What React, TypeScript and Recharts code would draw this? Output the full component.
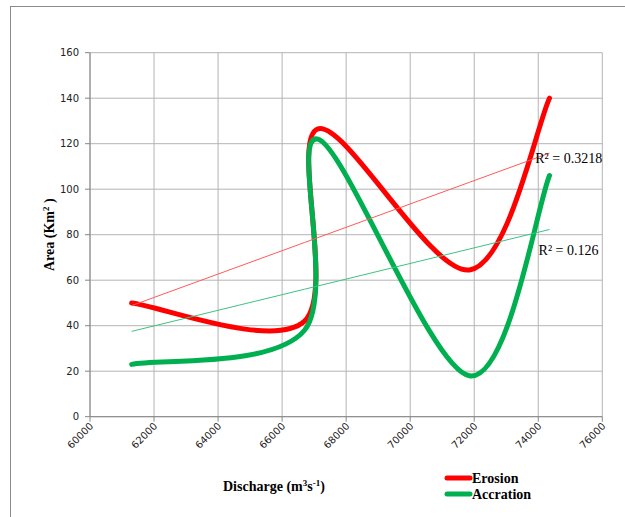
import React from 'react';
import {
  ComposedChart, Line, XAxis, YAxis, CartesianGrid, Legend, ReferenceDot,
} from 'recharts';

// Discharge (m3 s-1)
const discharge = [61300, 66700, 67120, 71850, 74350];
// Area (Km2)
const erosion = [50, 42, 126.5, 64.5, 140];
const accration = [23, 38, 122, 18, 106];

const xTicks = [60000, 62000, 64000, 66000, 68000, 70000, 72000, 74000, 76000];
const yTicks = [0, 20, 40, 60, 80, 100, 120, 140, 160];

const erosionR2 = 'R² = 0.3218';
const accrationR2 = 'R² = 0.126';
const erosionR2Pos = { x: 73906, y: 111.3 };
const accrationR2Pos = { x: 74009, y: 71.1 };

const RED = '#ff0000';
const GREEN = '#00b050';

function linReg(xs: number[], ys: number[]) {
  const n = xs.length;
  const mx = xs.reduce((a, b) => a + b, 0) / n;
  const my = ys.reduce((a, b) => a + b, 0) / n;
  let sxy = 0;
  let sxx = 0;
  for (let i = 0; i < n; i++) {
    sxy += (xs[i] - mx) * (ys[i] - my);
    sxx += (xs[i] - mx) * (xs[i] - mx);
  }
  const b = sxy / sxx;
  const a = my - b * mx;
  return (x: number) => a + b * x;
}

const erosionTrend = linReg(discharge, erosion);
const accrationTrend = linReg(discharge, accration);

const data = discharge.map((x, i) => ({
  x,
  erosion: erosion[i],
  accration: accration[i],
  erosionTrend: erosionTrend(x),
  accrationTrend: accrationTrend(x),
}));

// Excel-like smoothed line (Catmull-Rom style bezier)
function excelCurve(context: any) {
  let pts: number[][] = [];
  return {
    areaStart() {},
    areaEnd() {},
    lineStart() {
      pts = [];
    },
    lineEnd() {
      const n = pts.length;
      if (n === 0) return;
      context.moveTo(pts[0][0], pts[0][1]);
      for (let i = 0; i < n - 1; i++) {
        const p0 = pts[Math.max(i - 1, 0)];
        const p1 = pts[i];
        const p2 = pts[i + 1];
        const p3 = pts[Math.min(i + 2, n - 1)];
        context.bezierCurveTo(
          p1[0] + (p2[0] - p0[0]) / 6,
          p1[1] + (p2[1] - p0[1]) / 6,
          p2[0] - (p3[0] - p1[0]) / 6,
          p2[1] - (p3[1] - p1[1]) / 6,
          p2[0],
          p2[1],
        );
      }
    },
    point(x: number, y: number) {
      pts.push([+x, +y]);
    },
  };
}

const XTick = (props: any) => {
  const { x, y, payload } = props;
  return (
    <g transform={`translate(${x + 4},${y + 3})`}>
      <text
        x={0}
        y={0}
        textAnchor="end"
        transform="rotate(-45)"
        fontFamily="DejaVu Sans"
        fontSize={10}
        fill="#222"
      >
        {payload.value}
      </text>
    </g>
  );
};

const XLabel = (props: any) => {
  const vb = props.viewBox;
  return (
    <text
      x={vb.x + 133}
      y={vb.y + 74.5}
      fontFamily="Liberation Serif"
      fontWeight="bold"
      fontSize={14}
      fill="#000"
    >
      Discharge (m
      <tspan fontSize={9} dy={-5}>3</tspan>
      <tspan dy={5}>s</tspan>
      <tspan fontSize={9} dy={-5}>-1</tspan>
      <tspan dy={5}>)</tspan>
    </text>
  );
};

const YLabel = (props: any) => {
  const vb = props.viewBox;
  const cx = vb.x + 54;
  const cy = vb.y + vb.height / 2;
  return (
    <text
      x={cx}
      y={cy}
      textAnchor="middle"
      transform={`rotate(-90 ${cx} ${cy})`}
      fontFamily="Liberation Serif"
      fontWeight="bold"
      fontSize={14}
      fill="#000"
    >
      Area (Km
      <tspan fontSize={9} dy={-5}>2</tspan>
      <tspan dy={5}> )</tspan>
    </text>
  );
};

const R2Label = (text: string) => (props: any) => {
  const vb = props.viewBox;
  return (
    <text
      x={vb.x}
      y={vb.y}
      fontFamily="Liberation Serif"
      fontSize={14}
      fill="#000"
    >
      {text}
    </text>
  );
};

const LegendContent = () => (
  <svg width={110} height={36} style={{ display: 'block' }}>
    <line x1={4} y1={9} x2={27} y2={9} stroke={RED} strokeWidth={5} strokeLinecap="round" />
    <text x={29} y={13.5} fontFamily="Liberation Serif" fontWeight="bold" fontSize={14} fill="#000">
      Erosion
    </text>
    <line x1={4} y1={25} x2={27} y2={25} stroke={GREEN} strokeWidth={5} strokeLinecap="round" />
    <text x={29} y={29.5} fontFamily="Liberation Serif" fontWeight="bold" fontSize={14} fill="#000">
      Accration
    </text>
  </svg>
);

export default function App() {
  return (
    <div
      style={{
        position: 'absolute',
        left: 0,
        top: 0,
        width: 625,
        height: 517,
        overflow: 'hidden',
        background: '#fff',
      }}
    >
      <div
        style={{
          position: 'absolute',
          left: 10,
          top: 6,
          width: 640,
          height: 540,
          border: '1px solid #8a8a8a',
          boxSizing: 'border-box',
        }}
      />
      <div style={{ position: 'absolute', left: 0, top: 0 }}>
        <ComposedChart
          width={625}
          height={517}
          data={data}
          margin={{ top: 52.7, right: 22.7, left: 0, bottom: 0 }}
        >
          <CartesianGrid stroke="#b4b4b4" strokeWidth={1} />
          <XAxis
            dataKey="x"
            type="number"
            domain={[60000, 76000]}
            ticks={xTicks}
            interval={0}
            height={100.3}
            stroke="#868686"
            tickSize={5}
            tickMargin={2}
            tick={<XTick />}
            label={<XLabel />}
          />
          <YAxis
            type="number"
            domain={[0, 160]}
            ticks={yTicks}
            interval={0}
            width={90}
            stroke="#868686"
            tickSize={5}
            tickMargin={6}
            tick={{ fontFamily: 'DejaVu Sans', fontSize: 10, fill: '#222' }}
            label={<YLabel />}
          />
          <Line
            dataKey="erosion"
            type={excelCurve as any}
            stroke={RED}
            strokeWidth={5}
            strokeLinecap="round"
            dot={false}
            activeDot={false}
            isAnimationActive={false}
            legendType="line"
            name="Erosion"
          />
          <Line
            dataKey="accration"
            type={excelCurve as any}
            stroke={GREEN}
            strokeWidth={5}
            strokeLinecap="round"
            dot={false}
            activeDot={false}
            isAnimationActive={false}
            legendType="line"
            name="Accration"
          />
          <Line
            dataKey="erosionTrend"
            type="linear"
            stroke="#ff5a5a"
            strokeWidth={1}
            dot={false}
            activeDot={false}
            isAnimationActive={false}
            legendType="none"
          />
          <Line
            dataKey="accrationTrend"
            type="linear"
            stroke="#3cc47f"
            strokeWidth={1}
            dot={false}
            activeDot={false}
            isAnimationActive={false}
            legendType="none"
          />
          <ReferenceDot
            x={erosionR2Pos.x}
            y={erosionR2Pos.y}
            r={0}
            fill="none"
            stroke="none"
            label={R2Label(erosionR2)}
          />
          <ReferenceDot
            x={accrationR2Pos.x}
            y={accrationR2Pos.y}
            r={0}
            fill="none"
            stroke="none"
            label={R2Label(accrationR2)}
          />
          <Legend
            layout="vertical"
            align="center"
            verticalAlign="middle"
            content={<LegendContent />}
            wrapperStyle={{ left: 443, top: 469, width: 110, height: 36 }}
          />
        </ComposedChart>
      </div>
    </div>
  );
}
